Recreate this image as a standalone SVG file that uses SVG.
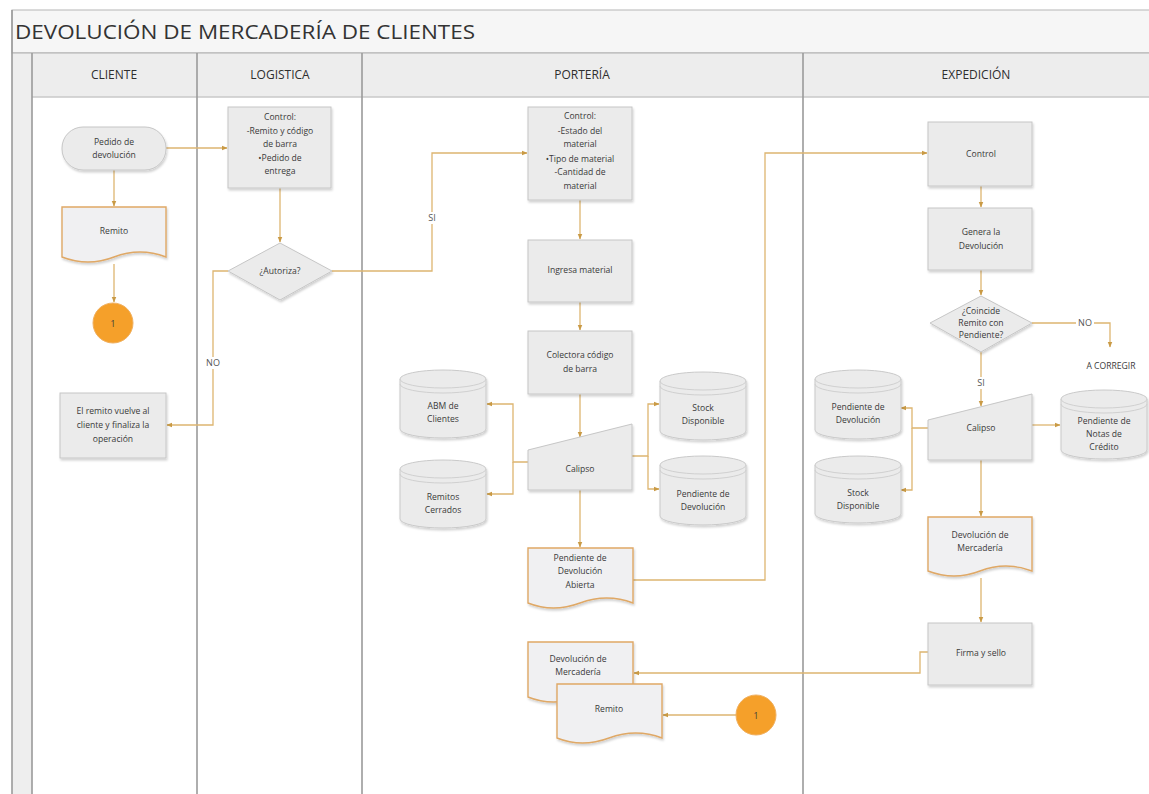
<svg xmlns="http://www.w3.org/2000/svg" width="1149" height="794" viewBox="0 0 1149 794">
  <defs>
    <marker id="arr" viewBox="0 0 10 10" refX="9" refY="5" markerWidth="6" markerHeight="6" orient="auto" markerUnits="userSpaceOnUse">
      <path d="M0,1 L10,5 L0,9 z" fill="#c99a45"/>
    </marker>
    <filter id="sh" x="-10%" y="-10%" width="125%" height="130%">
      <feDropShadow dx="1" dy="2" stdDeviation="1.2" flood-color="#000" flood-opacity="0.18"/>
    </filter>
  </defs>
  <style>
    .lane { stroke: #9a9a9a; stroke-width: 1.6; fill: none; }
    .box { fill: #ebebeb; stroke: #c6c6c6; stroke-width: 1; filter: url(#sh); }
    .doc { fill: #f0f0f2; stroke: #dfa866; stroke-width: 1.4; filter: url(#sh); }
    .cyl { fill: #ebebeb; stroke: #c9c9c9; stroke-width: 1; filter: url(#sh); }
    .cylin { fill: none; stroke: #d0d0d0; stroke-width: 1; }
    .circ { fill: #f5a02a; stroke: #f0b060; stroke-width: 1; }
    .t { font-family: "Open Sans", "Noto Sans", "Liberation Sans", sans-serif; font-size: 8.6px; fill: #3a3a3a; text-anchor: middle; }
    .hd { font-family: "Open Sans", "Noto Sans", "Liberation Sans", sans-serif; font-size: 12px; fill: #2e2e2e; text-anchor: middle; }
    .lbl { font-family: "Open Sans", "Noto Sans", "Liberation Sans", sans-serif; font-size: 9px; fill: #555; text-anchor: middle; }
    .c { fill: none; stroke: #ddb570; stroke-width: 1.3; marker-end: url(#arr); }
    .cn { fill: none; stroke: #ddb570; stroke-width: 1.3; }
  </style>

  <rect width="1149" height="794" fill="#ffffff"/>

  <!-- pool frame, title bar and lane headers -->
  <g id="pool">
    <rect x="12" y="10" width="1140" height="43" fill="#f6f6f6" stroke="#b5b5b5" stroke-width="1"/>
    <text x="15" y="39" font-family="'Open Sans', 'Noto Sans', 'Liberation Sans', sans-serif" font-size="20" fill="#333" textLength="460" lengthAdjust="spacingAndGlyphs">DEVOLUCIÓN DE MERCADERÍA DE CLIENTES</text>
    <rect x="12" y="53" width="20" height="741" fill="#eeeeee"/>
    <rect x="32" y="53" width="1120" height="44" fill="#ededed"/>
    <line x1="32" y1="97" x2="1149" y2="97" stroke="#c9c9c9" stroke-width="1.5"/>
    <line x1="12" y1="53" x2="1149" y2="53" stroke="#b0b0b0" stroke-width="1.2"/>
    <line class="lane" x1="12" y1="10" x2="12" y2="794"/>
    <line class="lane" x1="32" y1="53" x2="32" y2="794" stroke="#c0c0c0"/>
    <line class="lane" x1="197" y1="53" x2="197" y2="794"/>
    <line class="lane" x1="362" y1="53" x2="362" y2="794"/>
    <line class="lane" x1="803" y1="53" x2="803" y2="794"/>
    <text class="hd" x="114" y="79">CLIENTE</text>
    <text class="hd" x="280" y="79">LOGISTICA</text>
    <text class="hd" x="582" y="79">PORTERÍA</text>
    <text class="hd" x="976" y="79">EXPEDICIÓN</text>
  </g>

  <!-- connectors -->
  <g id="connectors">
    <path class="c" d="M166,148 H227"/>
    <path class="c" d="M114,170 V206"/>
    <path class="c" d="M114,264 V302"/>
    <path class="c" d="M280,188 V242"/>
    <path class="c" d="M228,271 H213 V425 H167"/>
    <path class="c" d="M332,271 H432 V153 H527"/>
    <path class="c" d="M580,200 V239"/>
    <path class="c" d="M580,302 V330"/>
    <path class="c" d="M580,394 V437"/>
    <path class="c" d="M528,462 H513 V404 H487"/>
    <path class="c" d="M513,462 V494 H487"/>
    <path class="c" d="M632,456 H648 V404 H659"/>
    <path class="c" d="M648,456 V489 H659"/>
    <path class="c" d="M580,490 V547"/>
    <path class="c" d="M633,580 H765 V153 H927"/>
    <path class="c" d="M981,186 V207"/>
    <path class="c" d="M981,270 V295"/>
    <path class="c" d="M1032,323 H1110 V347"/>
    <path class="c" d="M981,352 V406"/>
    <path class="c" d="M928,428 H912 V408 H901"/>
    <path class="c" d="M912,428 V490 H901"/>
    <path class="c" d="M1032,425 H1060"/>
    <path class="c" d="M981,460 V516"/>
    <path class="c" d="M981,578 V622"/>
    <path class="c" d="M928,652 H920 V673 H634"/>
    <path class="c" d="M736,715 H663"/>
    <rect x="204" y="357" width="18" height="12" fill="#fff"/>
    <text class="lbl" x="213" y="366">NO</text>
    <rect x="426" y="212" width="12" height="12" fill="#fff"/>
    <text class="lbl" x="432" y="221">SI</text>
    <rect x="1076" y="317" width="18" height="12" fill="#fff"/>
    <text class="lbl" x="1085" y="326">NO</text>
    <rect x="975" y="377" width="12" height="12" fill="#fff"/>
    <text class="lbl" x="981" y="386">SI</text>
  </g>

  <!-- CLIENTE lane -->
  <g id="pedido-devolucion">
    <rect class="box" x="62" y="127" width="104" height="43" rx="21" ry="21"/>
    <text class="t" x="114" y="145">Pedido de</text>
    <text class="t" x="114" y="158">devolución</text>
  </g>
  <g id="remito-cliente">
    <path class="doc" d="M62,207 H166 V257 Q140,247 114,257 T62,257 Z"/>
    <text class="t" x="114" y="234">Remito</text>
  </g>
  <g id="conector-1a">
    <circle class="circ" cx="113" cy="323" r="20"/>
    <text class="t" x="113" y="327" font-size="10" fill="#444">1</text>
  </g>
  <g id="remito-vuelve">
    <rect class="box" x="60" y="393" width="106" height="65"/>
    <text class="t" x="113" y="414">El remito vuelve al</text>
    <text class="t" x="113" y="428">cliente y finaliza la</text>
    <text class="t" x="113" y="442">operación</text>
  </g>

  <!-- LOGISTICA lane -->
  <g id="control-logistica">
    <rect class="box" x="228" y="107" width="103" height="81"/>
    <text class="t" x="280" y="120">Control:</text>
    <text class="t" x="280" y="134">-Remito y código</text>
    <text class="t" x="280" y="147">de barra</text>
    <text class="t" x="280" y="161">•Pedido de</text>
    <text class="t" x="280" y="174">entrega</text>
  </g>
  <g id="autoriza">
    <path class="box" d="M280,243 L332,271 L280,300 L228,271 Z"/>
    <text class="t" x="280" y="274">¿Autoriza?</text>
  </g>

  <!-- PORTERIA lane -->
  <g id="control-porteria">
    <rect class="box" x="528" y="107" width="104" height="93"/>
    <text class="t" x="580" y="119">Control:</text>
    <text class="t" x="580" y="134">-Estado del</text>
    <text class="t" x="580" y="147">material</text>
    <text class="t" x="580" y="162">•Tipo de material</text>
    <text class="t" x="580" y="175">-Cantidad de</text>
    <text class="t" x="580" y="189">material</text>
  </g>
  <g id="ingresa-material">
    <rect class="box" x="528" y="240" width="104" height="62"/>
    <text class="t" x="580" y="273">Ingresa material</text>
  </g>
  <g id="colectora">
    <rect class="box" x="528" y="331" width="104" height="63"/>
    <text class="t" x="580" y="358">Colectora código</text>
    <text class="t" x="580" y="372">de barra</text>
  </g>
  <g id="calipso-porteria">
    <path class="box" d="M528,450 L632,424 V490 H528 Z"/>
    <text class="t" x="580" y="472">Calipso</text>
  </g>
  <g id="abm-clientes">
    <path class="cyl" d="M400,379 A43,9 0 0 1 486,379 V429 A43,9 0 0 1 400,429 Z"/>
    <path class="cylin" d="M400,379 A43,9 0 0 0 486,379 M400,384 A43,9 0 0 0 486,384"/>
    <text class="t" x="443" y="409">ABM de</text>
    <text class="t" x="443" y="422">Clientes</text>
  </g>
  <g id="remitos-cerrados">
    <path class="cyl" d="M400,469 A43,9 0 0 1 486,469 V519 A43,9 0 0 1 400,519 Z"/>
    <path class="cylin" d="M400,469 A43,9 0 0 0 486,469 M400,474 A43,9 0 0 0 486,474"/>
    <text class="t" x="443" y="500">Remitos</text>
    <text class="t" x="443" y="513">Cerrados</text>
  </g>
  <g id="stock-porteria">
    <path class="cyl" d="M660,381 A43,9 0 0 1 746,381 V431 A43,9 0 0 1 660,431 Z"/>
    <path class="cylin" d="M660,381 A43,9 0 0 0 746,381 M660,386 A43,9 0 0 0 746,386"/>
    <text class="t" x="703" y="411">Stock</text>
    <text class="t" x="703" y="424">Disponible</text>
  </g>
  <g id="pendiente-porteria">
    <path class="cyl" d="M660,465 A43,9 0 0 1 746,465 V516 A43,9 0 0 1 660,516 Z"/>
    <path class="cylin" d="M660,465 A43,9 0 0 0 746,465 M660,470 A43,9 0 0 0 746,470"/>
    <text class="t" x="703" y="497">Pendiente de</text>
    <text class="t" x="703" y="510">Devolución</text>
  </g>
  <g id="pendiente-abierta">
    <path class="doc" d="M528,548 H633 V603 Q607,593 580,603 T528,603 Z"/>
    <text class="t" x="580" y="561">Pendiente de</text>
    <text class="t" x="580" y="574">Devolución</text>
    <text class="t" x="580" y="588">Abierta</text>
  </g>
  <g id="devolucion-porteria">
    <path class="doc" d="M528,642 H633 V697 Q607,687 580,697 T528,697 Z"/>
    <text class="t" x="578" y="662">Devolución de</text>
    <text class="t" x="578" y="675">Mercadería</text>
  </g>
  <g id="remito-porteria">
    <path class="doc" d="M557,684 H662 V738 Q636,728 609,738 T557,738 Z"/>
    <text class="t" x="609" y="712">Remito</text>
  </g>
  <g id="conector-1b">
    <circle class="circ" cx="756" cy="715" r="20"/>
    <text class="t" x="756" y="719" font-size="10" fill="#444">1</text>
  </g>

  <!-- EXPEDICION lane -->
  <g id="control-expedicion">
    <rect class="box" x="928" y="122" width="104" height="64"/>
    <text class="t" x="981" y="157">Control</text>
  </g>
  <g id="genera-devolucion">
    <rect class="box" x="928" y="208" width="104" height="62"/>
    <text class="t" x="981" y="235">Genera la</text>
    <text class="t" x="981" y="249">Devolución</text>
  </g>
  <g id="coincide">
    <path class="box" d="M981,296 L1032,323 L981,352 L930,323 Z"/>
    <text class="t" x="981" y="314">¿Coincide</text>
    <text class="t" x="981" y="326">Remito con</text>
    <text class="t" x="981" y="338">Pendiente?</text>
  </g>
  <g id="a-corregir">
    <text class="t" x="1111" y="369" font-size="9.5" fill="#333">A CORREGIR</text>
  </g>
  <g id="calipso-expedicion">
    <path class="box" d="M928,420 L1032,394 V460 H928 Z"/>
    <text class="t" x="981" y="431">Calipso</text>
  </g>
  <g id="pendiente-expedicion">
    <path class="cyl" d="M815,379 A43,9 0 0 1 901,379 V430 A43,9 0 0 1 815,430 Z"/>
    <path class="cylin" d="M815,379 A43,9 0 0 0 901,379 M815,384 A43,9 0 0 0 901,384"/>
    <text class="t" x="858" y="410">Pendiente de</text>
    <text class="t" x="858" y="423">Devolución</text>
  </g>
  <g id="stock-expedicion">
    <path class="cyl" d="M815,465 A43,9 0 0 1 901,465 V514 A43,9 0 0 1 815,514 Z"/>
    <path class="cylin" d="M815,465 A43,9 0 0 0 901,465 M815,470 A43,9 0 0 0 901,470"/>
    <text class="t" x="858" y="496">Stock</text>
    <text class="t" x="858" y="509">Disponible</text>
  </g>
  <g id="notas-credito">
    <path class="cyl" d="M1061,399 A43,9 0 0 1 1147,399 V450 A43,9 0 0 1 1061,450 Z"/>
    <path class="cylin" d="M1061,399 A43,9 0 0 0 1147,399 M1061,404 A43,9 0 0 0 1147,404"/>
    <text class="t" x="1104" y="424">Pendiente de</text>
    <text class="t" x="1104" y="437">Notas de</text>
    <text class="t" x="1104" y="450">Crédito</text>
  </g>
  <g id="devolucion-expedicion">
    <path class="doc" d="M928,517 H1032 V571 Q1006,561 980,571 T928,571 Z"/>
    <text class="t" x="980" y="538">Devolución de</text>
    <text class="t" x="980" y="551">Mercadería</text>
  </g>
  <g id="firma-sello">
    <rect class="box" x="928" y="623" width="104" height="62"/>
    <text class="t" x="981" y="656">Firma y sello</text>
  </g>
</svg>
